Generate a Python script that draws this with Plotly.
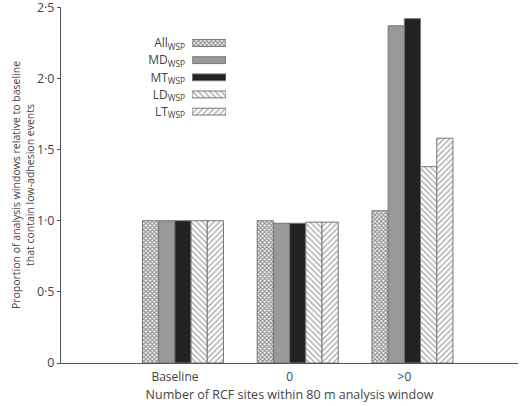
import plotly.graph_objects as go

categories = ["Baseline", "0", ">0"]
series_names = ["All", "MD", "MT", "LD", "LT"]
all_wsp = [1.0, 1.0, 1.07]
md_wsp = [1.0, 0.982, 2.37]
mt_wsp = [1.0, 0.982, 2.42]
ld_wsp = [1.0, 0.99, 1.38]
lt_wsp = [1.0, 0.99, 1.58]
y_ticks = [0, 0.5, 1.0, 1.5, 2.0, 2.5]
y_tick_text = ["0", "0·5", "1·0", "1·5", "2·0", "2·5"]

values = [all_wsp, md_wsp, mt_wsp, ld_wsp, lt_wsp]
styles = [
    {"color": "white", "pattern": {"shape": "x", "size": 3, "solidity": 0.65, "fgcolor": "#2a2a2a"}},
    {"color": "#999999", "pattern": {"shape": ""}},
    {"color": "#222222", "pattern": {"shape": ""}},
    {"color": "white", "pattern": {"shape": "\\", "size": 4, "solidity": 0.35, "fgcolor": "#555"}},
    {"color": "white", "pattern": {"shape": "/", "size": 4, "solidity": 0.35, "fgcolor": "#555"}},
]
font_col = "#444444"

fig = go.Figure()
for name, vals, st in zip(series_names, values, styles):
    fig.add_trace(go.Bar(
        x=categories, y=vals, name=name,
        marker=dict(color=st["color"], pattern=st["pattern"],
                    line=dict(color="#777777", width=1)),
        showlegend=False,
    ))

# legend drawn as a small inset bar chart so swatches sit right of the labels
legend_labels = [n + "<sub>WSP</sub>" for n in series_names]
for lab, st in zip(legend_labels, styles):
    fig.add_trace(go.Bar(
        x=[1], y=[lab], orientation="h", xaxis="x2", yaxis="y2",
        width=0.4,
        marker=dict(color=st["color"], pattern=st["pattern"],
                    line=dict(color="#777777", width=1)),
        showlegend=False,
    ))

fig.update_layout(
    width=520, height=406,
    margin=dict(l=61, r=2, t=7, b=43),
    plot_bgcolor="white", paper_bgcolor="white",
    font=dict(family="Open Sans", size=12, color=font_col),
    barmode="group", bargap=0.294, bargroupgap=0,
    xaxis=dict(
        range=[-1.063, 2.92], showline=True, linecolor="#555", linewidth=1,
        ticks="", showgrid=False, tickfont=dict(size=12), automargin=False,
        ticklabelshift=-8, ticklabelstandoff=3,
        title=dict(text="Number of RCF sites within 80 m analysis window",
                   font=dict(size=12.5), standoff=5),
    ),
    yaxis=dict(
        range=[0, 2.502], tickvals=y_ticks, ticktext=y_tick_text,
        showline=True, linecolor="#555", linewidth=1, ticks="outside",
        ticklen=3, tickcolor="#555", showgrid=False, zeroline=False,
        tickfont=dict(size=12.5), automargin=False, ticklabeloverflow="allow",
        title=dict(text="Proportion of analysis windows relative to baseline<br>that contain low-adhesion events",
                   font=dict(size=10.5), standoff=0),
    ),
    xaxis2=dict(domain=[0.287, 0.361], range=[0, 1], anchor="y2",
                visible=False, fixedrange=True),
    yaxis2=dict(domain=[0.682, 0.923], anchor="x2", autorange="reversed",
                showline=False, ticks="", showgrid=False, automargin=False,
                tickfont=dict(size=12), ticklabelstandoff=6),
)

fig.write_html("out.html", config={"displayModeBar": False},
               post_script="document.body.style.margin='0';")
